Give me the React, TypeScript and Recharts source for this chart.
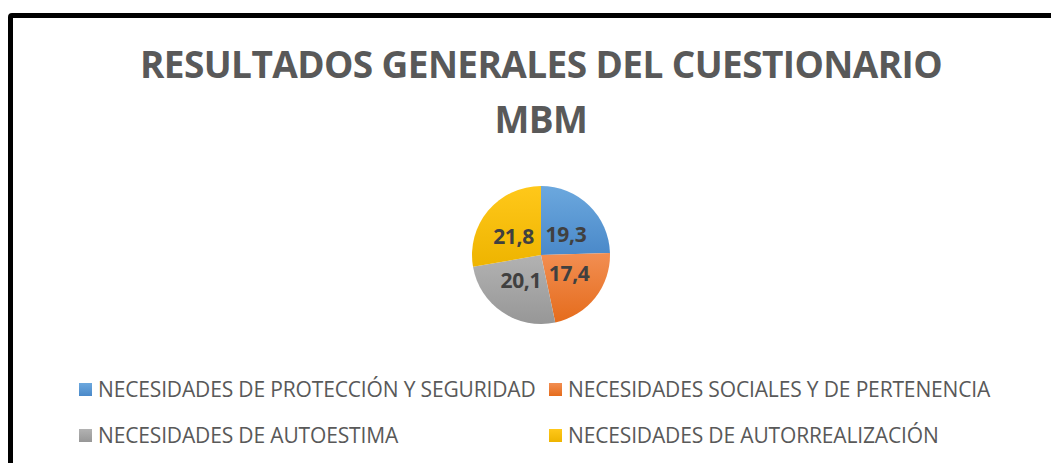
import { PieChart, Pie, Cell, Legend } from "recharts";

const categories = [
  "NECESIDADES DE PROTECCIÓN Y SEGURIDAD",
  "NECESIDADES SOCIALES Y DE PERTENENCIA",
  "NECESIDADES DE AUTOESTIMA",
  "NECESIDADES DE AUTORREALIZACIÓN",
];
const values = [19.3, 17.4, 20.1, 21.8];
const colors = ["#5B9BD5", "#ED7D31", "#A5A5A5", "#FFC000"];
// lighter top / darker bottom shading like the original
const gradTop = ["#6CA8DE", "#F28E52", "#B2B2B2", "#FFC81A"];
const gradBottom = ["#4A89C9", "#E56C1C", "#979797", "#EEB400"];
const titleLines = ["RESULTADOS GENERALES DEL CUESTIONARIO", "MBM"];

const data = categories.map((name, i) => ({ name, value: values[i] }));

const RAD = Math.PI / 180;

// Excel-like inside labels
function renderLabel(props: any) {
  const { cx, cy, midAngle, outerRadius, value } = props;
  const x = cx + Math.cos(-midAngle * RAD) * outerRadius * 0.52;
  const y = cy + Math.sin(-midAngle * RAD) * outerRadius * 0.43;
  return (
    <text
      x={x}
      y={y}
      textAnchor="middle"
      dominantBaseline="central"
      fill="#404040"
      fontSize={21}
      fontWeight={700}
      fontFamily="'Open Sans', sans-serif"
      letterSpacing={-0.3}
    >
      {String(value).replace(".", ",")}
    </text>
  );
}

function LegendContent() {
  return (
    <div
      style={{
        display: "grid",
        gridTemplateColumns: "470px 470px",
        rowGap: 20,
        fontFamily: "'Open Sans', sans-serif",
        fontSize: 21,
        color: "#595959",
        letterSpacing: -0.15,
      }}
    >
      {data.map((d, i) => (
        <div key={d.name} style={{ display: "flex", alignItems: "center", height: 26 }}>
          <span
            style={{
              width: 13,
              height: 13,
              background: `linear-gradient(${gradTop[i]}, ${gradBottom[i]})`,
              display: "inline-block",
              marginRight: 6,
            }}
          />
          <span>{d.name}</span>
        </div>
      ))}
    </div>
  );
}

export default function App() {
  return (
    <div style={{ width: 1051, height: 455, overflow: "hidden", paddingTop: 5, boxSizing: "border-box" }}>
      <div
        style={{
          position: "relative",
          width: 1100,
          height: 520,
          border: "5px solid #000",
          borderRadius: 4,
          background: "#fff",
        }}
      >
        <div
          style={{
            position: "absolute",
            left: 0,
            top: 18,
            width: 1056,
            textAlign: "center",
            fontFamily: "'Open Sans', sans-serif",
            fontWeight: 700,
            fontSize: 37,
            lineHeight: "55px",
            color: "#595959",
            letterSpacing: -0.6,
          }}
        >
          {titleLines.map((t) => (
            <div key={t}>{t}</div>
          ))}
        </div>
        <PieChart width={1056} height={460} style={{ position: "absolute", left: 0, top: 0 }}>
          <defs>
            {colors.map((c, i) => (
              <linearGradient key={c} id={`slice${i}`} x1="0" y1="0" x2="0" y2="1">
                <stop offset="0%" stopColor={gradTop[i]} />
                <stop offset="100%" stopColor={gradBottom[i]} />
              </linearGradient>
            ))}
          </defs>
          <Pie
            data={data}
            dataKey="value"
            nameKey="name"
            cx="50%"
            cy={232}
            outerRadius={69}
            startAngle={90}
            endAngle={-270}
            stroke="none"
            label={renderLabel}
            labelLine={false}
            isAnimationActive={false}
          >
            {data.map((d, i) => (
              <Cell key={d.name} fill={`url(#slice${i})`} />
            ))}
          </Pie>
          <Legend
            content={<LegendContent />}
            wrapperStyle={{ position: "absolute", left: 66, top: 358, width: 960 }}
          />
        </PieChart>
      </div>
    </div>
  );
}
